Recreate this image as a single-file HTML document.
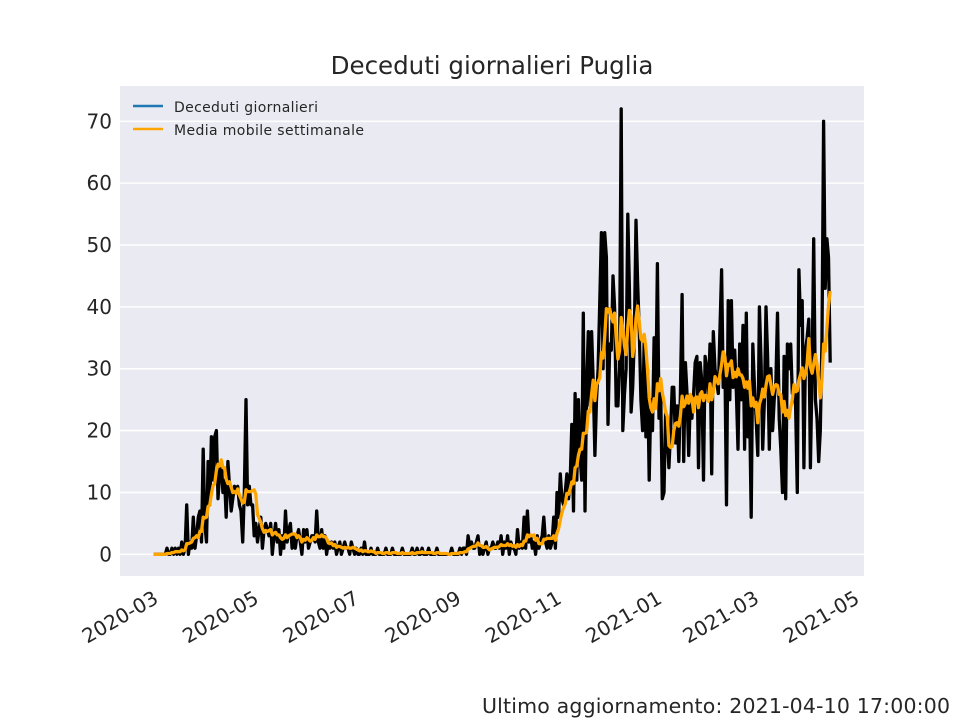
<!DOCTYPE html>
<html><head><meta charset="utf-8"><style>
body{margin:0;background:#fff;}
svg{display:block;font-family:"DejaVu Sans","Liberation Sans",sans-serif;}
</style></head><body>
<svg id="chart" width="960" height="720">
<rect x="0" y="0" width="960" height="720" fill="#fff"/>
<rect x="120" y="86" width="744" height="490" fill="#eaeaf2"/>
<g id="grid"></g><g id="series"></g><g id="axes"></g>
<text x="492" y="74" text-anchor="middle" font-size="24.5" fill="#262626">Deceduti giornalieri Puglia</text>
<g>
<line x1="133" y1="106" x2="163" y2="106" stroke="#1f77b4" stroke-width="2.5"/>
<text x="174" y="112" font-size="14" fill="#262626" textLength="144">Deceduti giornalieri</text>
<line x1="133" y1="129" x2="163" y2="129" stroke="orange" stroke-width="2.5"/>
<text x="174" y="135" font-size="14" fill="#262626" textLength="190">Media mobile settimanale</text>
</g>
<text x="950" y="713" text-anchor="end" font-size="20.5" fill="#262626" textLength="468">Ultimo aggiornamento: 2021-04-10 17:00:00</text>
</svg>
<script>
const startDate = "2020-02-24";
const yTicks = [0,10,20,30,40,50,60,70];
const xTickLabels = ["2020-03","2020-05","2020-07","2020-09","2020-11","2021-01","2021-03","2021-05"];
const deaths = [
0,0,0,0,0,0,0,0,1,0,0,1,0,1,0,
1,0,2,0,1,8,0,2,1,6,1,3,6,7,2,
17,5,2,15,8,19,12,19,20,9,13,15,10,12,6,
15,11,7,9,11,10,11,8,7,2,10,25,8,11,8,
8,3,5,2,4,6,1,4,5,4,3,5,0,3,5,
2,4,0,3,1,7,2,4,5,1,3,1,3,4,2,0,4,2,4,1,2,3,3,2,7,
2,1,4,1,3,0,2,1,2,1,2,0,1,2,0,1,2,1,1,0,2,1,0,1,0,0,1,0,2,0,
0,0,1,0,0,0,1,0,0,0,0,1,0,0,0,1,0,0,0,0,0,1,0,0,0,0,0,1,0,0,
1,0,0,1,0,0,0,1,0,0,0,0,1,0,0,0,0,0,0,0,0,1,0,0,0,0,1,0,1,1,
0,3,1,2,1,1,2,3,0,1,0,1,2,0,1,1,2,1,1,2,1,3,0,2,1,3,0,2,1,1,
0,4,1,2,1,6,1,7,2,3,1,2,0,3,1,2,3,6,2,1,
3,1,2,6,1,10,6,13,9,8,10,13,9,12,21,7,26,12,25,16,
12,39,7,27,36,24,36,28,16,25,30,41,52,30,52,48,21,34,33,45,
40,24,24,30,72,20,26,30,55,43,23,27,35,54,44,36,25,20,35,19,
30,12,25,20,35,24,47,22,26,9,10,23,19,14,20,27,27,18,24,15,26,42,15,31,26,16,25,22,26,31,
32,14,31,28,12,32,30,26,34,13,36,30,28,26,36,46,27,31,8,41,25,41,27,33,26,17,34,25,37,17,39,19,25,6,34,27,22,16,40,31,
17,25,40,32,17,30,20,25,28,39,
22,17,10,32,9,34,30,34,26,27,
24,10,46,37,41,14,33,35,38,14,
30,51,25,22,15,20,35,70,43,51,48,31
];
const NS="http://www.w3.org/2000/svg";
const DAY=86400000, t0=Date.parse(startDate+"T00:00:00Z");
const n=deaths.length, span=n-1;
const xmin=-0.05*span, xmax=span*1.05;
const X0=120,X1=864,Y0=576,Y1=86;
const ymin=-3.5, ymax=75.7;
function x(d){return X0+(d-xmin)/(xmax-xmin)*(X1-X0);}
function y(v){return Y0-(v-ymin)/(ymax-ymin)*(Y0-Y1);}
function mk(tag,attrs,parent){const e=document.createElementNS(NS,tag);for(const k in attrs)e.setAttribute(k,attrs[k]);parent.appendChild(e);return e;}
const grid=document.getElementById('grid'),axes=document.getElementById('axes'),series=document.getElementById('series');
yTicks.forEach(v=>{
 const l=mk('line',{x1:X0,x2:X1,y1:y(v),y2:y(v),stroke:'#fff','stroke-width':1.6},grid);
 
 
 const t=mk('text',{x:112,y:y(v)+7,'text-anchor':'end','font-size':20,fill:'#262626'},axes);
 t.textContent=v;
 
 
});
xTickLabels.forEach(s=>{
 const d=(Date.parse(s+"-01T00:00:00Z")-t0)/DAY;
 const px=x(d);
 const t=mk('text',{x:0,y:0,'text-anchor':'end','font-size':20,fill:'#262626',transform:`translate(${px-11},${590}) rotate(-30) translate(0,14)`},axes);
 t.textContent=s;
 
 
});
const ma=deaths.map((v,i)=>{const s=deaths.slice(Math.max(0,i-6),i+1);return s.reduce((a,b)=>a+b,0)/s.length;});
const p1=mk('polyline',{points:deaths.map((v,i)=>x(i).toFixed(1)+','+y(v).toFixed(1)).join(' '),fill:'none',stroke:'#000','stroke-width':3.3,'stroke-linejoin':'round'},series);


const p2=mk('polyline',{points:ma.map((v,i)=>x(i).toFixed(1)+','+y(v).toFixed(1)).join(' '),fill:'none',stroke:'orange','stroke-width':3.3,'stroke-linejoin':'round'},series);


</script>
</body></html>
